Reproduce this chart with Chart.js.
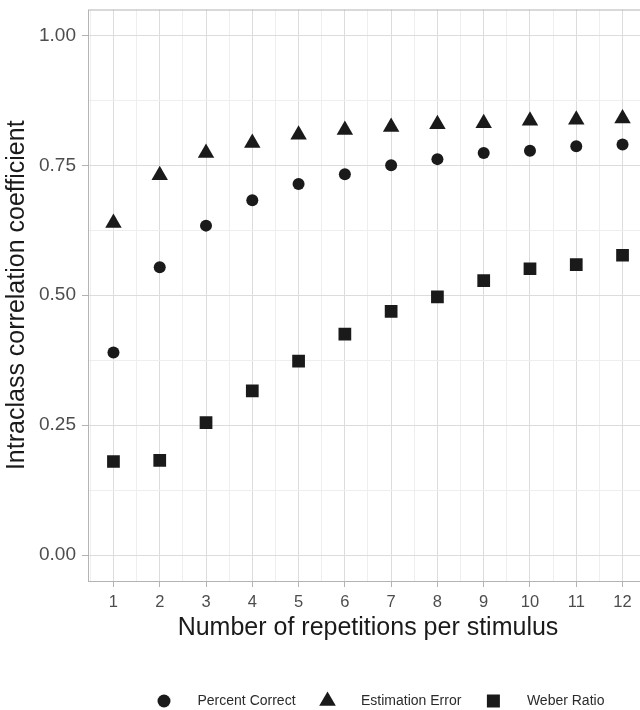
<!DOCTYPE html>
<html>
<head>
<meta charset="utf-8">
<script src="https://cdn.jsdelivr.net/npm/chart.js@4/dist/chart.umd.min.js"></script>
<style>
html, body { margin: 0; padding: 0; background: #fff; overflow: hidden; }
#wrap { width: 768px; height: 710px; }
</style>
</head>
<body>
<div id="wrap"><canvas id="iccChart" width="768" height="710"></canvas></div>
<script>
const repetitions = [1, 2, 3, 4, 5, 6, 7, 8, 9, 10, 11, 12];
const percentCorrect = [0.390, 0.554, 0.634, 0.683, 0.714, 0.733, 0.750, 0.762, 0.774, 0.778, 0.787, 0.790];
const estimationError = [0.639, 0.731, 0.774, 0.793, 0.809, 0.818, 0.824, 0.829, 0.831, 0.836, 0.838, 0.840];
const weberRatio = [0.180, 0.182, 0.255, 0.316, 0.373, 0.425, 0.469, 0.497, 0.528, 0.551, 0.559, 0.577];

const xMajorTicks = [1, 2, 3, 4, 5, 6, 7, 8, 9, 10, 11, 12];
const xMinorTicks = [0.5, 1.5, 2.5, 3.5, 4.5, 5.5, 6.5, 7.5, 8.5, 9.5, 10.5, 11.5, 12.5];
const yMajorTicks = [0, 0.25, 0.5, 0.75, 1];
const yTickLabels = ['0.00', '0.25', '0.50', '0.75', '1.00'];
const yMinorTicks = [0.125, 0.375, 0.625, 0.875];

const FONT = '"Liberation Sans", Arial, Helvetica, sans-serif';
const INK = '#1a1a1a';

function buildTicks(major, minor) {
    return major.map(v => ({ value: v, isMajor: true }))
        .concat(minor.map(v => ({ value: v, isMajor: false })))
        .sort((a, b) => a.value - b.value);
}

function points(values) {
    return repetitions.map((x, i) => ({ x: x, y: values[i] }));
}

const gridColor = ctx => (ctx.tick && ctx.tick.isMajor) ? '#dcdcdc' : '#eeeeee';
const tickColor = ctx => (ctx.tick && ctx.tick.isMajor) ? '#b3b3b3' : 'rgba(0,0,0,0)';

function drawMarker(ctx, style, x, y) {
    ctx.beginPath();
    if (style === 'circle') {
        ctx.arc(x, y, 6.5, 0, Math.PI * 2);
    } else if (style === 'triangle') {
        const r = 9.6;
        ctx.moveTo(x, y - r);
        ctx.lineTo(x + r * Math.sqrt(3) / 2, y + r / 2);
        ctx.lineTo(x - r * Math.sqrt(3) / 2, y + r / 2);
        ctx.closePath();
    } else {
        ctx.rect(x - 6.5, y - 6.5, 13, 13);
    }
    ctx.fill();
}

const panelBorder = {
    id: 'panelBorder',
    beforeDatasetsDraw(chart) {
        const a = chart.chartArea;
        const ctx = chart.ctx;
        ctx.save();
        ctx.strokeStyle = '#b3b3b3';
        ctx.lineWidth = 1;
        ctx.strokeRect(a.left + 0.5, a.top + 0.5, a.right - a.left - 1, a.bottom - a.top);
        ctx.restore();
    }
};

const bottomLegend = {
    id: 'bottomLegend',
    afterDraw(chart) {
        const ctx = chart.ctx;
        ctx.save();
        ctx.font = '14px ' + FONT;
        ctx.textBaseline = 'middle';
        let x = 164;
        const y = 701;
        chart.data.datasets.forEach(ds => {
            ctx.fillStyle = INK;
            drawMarker(ctx, ds.pointStyle, x, y);
            const tx = x + 33.5;
            ctx.fillStyle = '#2b2b2b';
            ctx.fillText(ds.label, tx, y);
            x = tx + ctx.measureText(ds.label).width + 32;
        });
        ctx.restore();
    }
};

new Chart(document.getElementById('iccChart'), {
    type: 'scatter',
    data: {
        datasets: [{
            label: 'Percent Correct',
            data: points(percentCorrect),
            pointStyle: 'circle',
            pointRadius: 6,
            pointHoverRadius: 6,
            backgroundColor: INK,
            borderColor: INK,
            borderWidth: 0
        }, {
            label: 'Estimation Error',
            data: points(estimationError),
            pointStyle: 'triangle',
            pointRadius: 9.5,
            pointHoverRadius: 9.5,
            backgroundColor: INK,
            borderColor: INK,
            borderWidth: 0
        }, {
            label: 'Weber Ratio',
            data: points(weberRatio),
            pointStyle: 'rect',
            pointRadius: 9,
            pointHoverRadius: 9,
            backgroundColor: INK,
            borderColor: INK,
            borderWidth: 0
        }]
    },
    options: {
        responsive: false,
        animation: false,
        layout: { padding: { left: 0, top: 8, right: 120, bottom: 59 } },
        plugins: {
            legend: { display: false },
            tooltip: { enabled: false }
        },
        scales: {
            x: {
                type: 'linear',
                min: 0.45,
                max: 12.55,
                afterBuildTicks: scale => { scale.ticks = buildTicks(xMajorTicks, xMinorTicks); },
                afterFit: scale => {
                    scale.height = 70;
                    scale.paddingLeft = 0; scale.paddingRight = 0;
                },
                border: { display: false },
                grid: { color: gridColor, tickColor: tickColor, lineWidth: 1, tickLength: 6 },
                ticks: {
                    autoSkip: false,
                    maxRotation: 0,
                    padding: 6,
                    color: '#4d4d4d',
                    font: { family: FONT, size: 16.5 },
                    callback: v => xMajorTicks.includes(v) ? String(v) : ''
                },
                title: {
                    display: true,
                    text: 'Number of repetitions per stimulus',
                    color: INK,
                    font: { family: FONT, size: 25 },
                    padding: { top: 0, bottom: 8 }
                }
            },
            y: {
                type: 'linear',
                min: -0.05,
                max: 1.05,
                afterBuildTicks: scale => { scale.ticks = buildTicks(yMajorTicks, yMinorTicks); },
                afterFit: scale => {
                    scale.width = 88;
                    scale.paddingTop = 0; scale.paddingBottom = 0;
                },
                border: { display: false },
                grid: { color: gridColor, tickColor: tickColor, lineWidth: 1, tickLength: 6 },
                ticks: {
                    autoSkip: false,
                    padding: 6,
                    color: '#4d4d4d',
                    font: { family: FONT, size: 19 },
                    callback: v => {
                        const i = yMajorTicks.indexOf(v);
                        return i >= 0 ? yTickLabels[i] : '';
                    }
                },
                title: {
                    display: true,
                    text: 'Intraclass correlation coefficient',
                    color: INK,
                    font: { family: FONT, size: 25 },
                    padding: { top: 2, bottom: 8 }
                }
            }
        }
    },
    plugins: [panelBorder, bottomLegend]
});
</script>
</body>
</html>
